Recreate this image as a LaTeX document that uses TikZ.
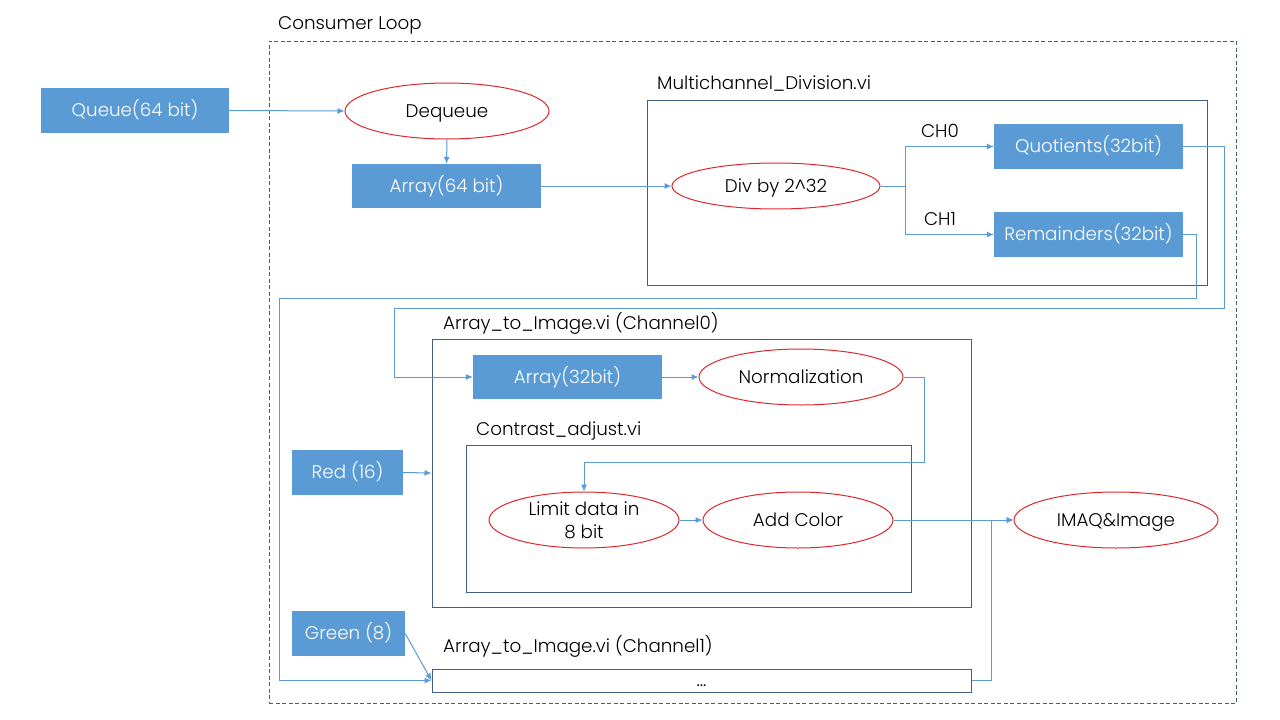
\documentclass[tikz,border=0pt]{standalone}
\usepackage{fontspec}
\setmainfont{Poppins}[UprightFont=* Light]
\usetikzlibrary{shapes.geometric,arrows.meta}
\definecolor{boxblue}{RGB}{91,155,213}
\definecolor{framec}{RGB}{65,95,130}
\definecolor{ellred}{RGB}{222,40,45}
\definecolor{dashc}{RGB}{68,94,126}
\newcommand{\diagfont}{\fontsize{18.3}{23}\selectfont}
\tikzset{
  x=1pt, y=-1pt,
  txt/.style={font=\diagfont, text=black, text height=12.8pt, text depth=0pt},
  bluebox/.style={draw=none, fill=boxblue, text=white, font=\diagfont, text height=12.8pt, text depth=0pt, inner sep=0pt},
  oval/.style={ellipse, draw=ellred, line width=1pt, fill=white, inner sep=0pt, font=\diagfont, text height=12.8pt, text depth=0pt},
  framebox/.style={draw=framec, line width=1pt, inner sep=0pt},
  conn/.style={draw=boxblue, line width=1pt},
  arr/.style={conn, -{Latex[length=7pt,width=6pt]}},
  lbl/.style={txt, anchor=west, inner sep=0pt},
}
\begin{document}
\begin{tikzpicture}
\useasboundingbox[fill=white] (0,0) rectangle (1280,720);
% consumer loop
\node[draw=dashc, dash pattern=on 4pt off 2.5pt, line width=0.8pt, minimum width=967pt, minimum height=662pt, inner sep=0pt] (loop) at (752.5,372) {};
\node[lbl] (looplbl) at (278,23) {Consumer Loop};
% frames
\node[framebox, minimum width=560pt, minimum height=185pt] (mc) at (927,192.5) {};
\node[lbl] (mclbl) at (657,83) {Multichannel\_Division.vi};
\node[framebox, minimum width=539pt, minimum height=268pt] (a2i) at (701.5,473) {};
\node[lbl] (a2ilbl) at (443,323) {Array\_to\_Image.vi (Channel0)};
\node[framebox, minimum width=445pt, minimum height=147pt] (ca) at (688.5,518.5) {};
\node[lbl] (calbl) at (476,429) {Contrast\_adjust.vi};
\node[framebox, minimum width=539pt, minimum height=23pt, txt] (dots) at (701.5,680.5) {...};
\node[lbl] (a2i1lbl) at (443,646) {Array\_to\_Image.vi (Channel1)};
% blue boxes
\node[bluebox, minimum width=188pt, minimum height=45pt] (queue) at (135,110.5) {Queue(64 bit)};
\node[bluebox, minimum width=189pt, minimum height=44pt] (arr64) at (446.5,186) {Array(64 bit)};
\node[bluebox, minimum width=189pt, minimum height=45pt] (quot) at (1088.5,146.5) {Quotients(32bit)};
\node[bluebox, minimum width=189pt, minimum height=45pt] (rem) at (1088.5,234.5) {Remainders(32bit)};
\node[bluebox, minimum width=189pt, minimum height=44pt] (arr32) at (567.5,377) {Array(32bit)};
\node[bluebox, minimum width=111pt, minimum height=45pt] (red) at (347.5,472.5) {Red (16)};
\node[bluebox, minimum width=113pt, minimum height=45pt] (green) at (348.5,633.5) {Green (8)};
% ellipses
\node[oval, minimum width=204pt, minimum height=56pt] (deq) at (447,111) {Dequeue};
\node[oval, minimum width=208pt, minimum height=46pt] (div) at (776,186) {Div by 2\^{}32};
\node[oval, minimum width=204pt, minimum height=56pt] (norm) at (801,377) {Normalization};
\node[oval, minimum width=190pt, minimum height=56pt, text depth=22pt] (limit) at (584,520) {\raisebox{0pt}[12.8pt][22pt]{\begin{tabular}[t]{@{}c@{}}Limit data in\\8 bit\end{tabular}}};
\node[oval, minimum width=190pt, minimum height=56pt] (addc) at (798,520) {Add Color};
\node[oval, minimum width=204pt, minimum height=56pt] (imaq) at (1116,520) {IMAQ\&Image};
% channel labels
\node[txt, inner sep=0pt] (ch0) at (940,131) {CH0};
\node[txt, inner sep=0pt] (ch1) at (940,219) {CH1};
% routing points
\coordinate (split) at (905,186);
\coordinate (q1) at (1224,308);
\coordinate (q2) at (394,308);
\coordinate (r1) at (1196,298);
\coordinate (r2) at (279,298);
\coordinate (n1) at (924,462);
\coordinate (d1) at (991,520);
% connectors
\draw[arr] (queue.east) -- (deq.west);
\draw[arr] (deq.south) -- (arr64.north);
\draw[arr] (arr64.east) -- (div.west);
\draw[conn] (div.east) -- (split);
\draw[arr] (split) |- (quot.west);
\draw[arr] (split) |- (rem.west);
\draw[arr] (quot.east) -| (q1) -- (q2) |- (arr32.west);
\draw[arr] (rem.east) -| (r1) -- (r2) |- (dots.west);
\draw[arr] (arr32.east) -- (norm.west);
\draw[arr] (norm.east) -| (n1) -| (limit.north);
\draw[arr] (limit.east) -- (addc.west);
\draw[arr] (addc.east) -- (imaq.west);
\draw[arr] (dots.east) -| (d1) -- (imaq.west);
\draw[arr] (red.east) -- (a2i.west);
\draw[arr] (green.east) -- (dots.west);
\end{tikzpicture}
\end{document}
